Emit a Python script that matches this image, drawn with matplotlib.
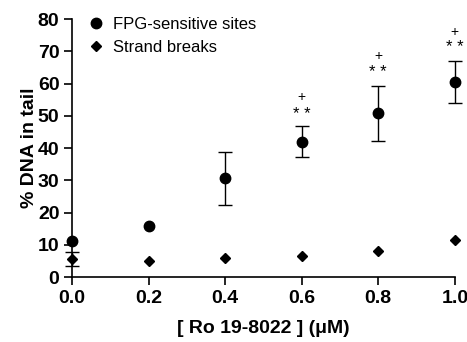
import numpy as np
import matplotlib
matplotlib.use('Agg')
import matplotlib.pyplot as plt

plt.rcParams['font.family'] = ['Liberation Sans', 'DejaVu Sans']

conc = [0.0, 0.2, 0.4, 0.6, 0.8, 1.0]
fpg = [11.3, 15.8, 30.6, 42.0, 50.8, 60.5]
fpg_err = [0, 0, 8.3, 4.7, 8.5, 6.5]
sb = [5.5, 5.0, 5.8, 6.4, 8.1, 11.5]
sb_err = [2.2, 0, 0, 0, 0, 0]
star_y = [50.5, 63.5, 71.3]
plus_y = [56.0, 68.6, 76.0]
sig_x = [0.6, 0.8, 1.0]

fig = plt.figure(figsize=(4.67, 3.42), dpi=100)
ax = fig.add_axes([0.154, 0.19, 0.82, 0.754])

def draw(xs, ys, errs, marker, ms, label):
    ax.plot(xs, ys, marker, color='black', ms=ms, clip_on=False, zorder=3, label=label)
    idx = [i for i, e in enumerate(errs) if e > 0]
    ax.errorbar([xs[i] for i in idx], [ys[i] for i in idx], yerr=[errs[i] for i in idx],
                fmt='none', ecolor='black', capsize=5, elinewidth=1, capthick=1,
                clip_on=False, zorder=2)

draw(conc, fpg, fpg_err, 'o', 7.5, 'FPG-sensitive sites')
draw(conc, sb, sb_err, 'D', 5.5, 'Strand breaks')

for x, ys, yp in zip(sig_x, star_y, plus_y):
    ax.text(x, ys, '* *', ha='center', va='center', fontsize=12)
    ax.text(x, yp, '+', ha='center', va='center', fontsize=10)

ax.set_xlim(0, 1.0)
ax.set_ylim(0, 80)
ax.set_xticks([0.0, 0.2, 0.4, 0.6, 0.8, 1.0])
ax.set_yticks(range(0, 81, 10))
ax.xaxis.set_major_formatter(matplotlib.ticker.FormatStrFormatter('%.1f'))
ax.spines['top'].set_visible(False)
ax.spines['right'].set_visible(False)
ax.spines['left'].set_linewidth(1.2)
ax.spines['bottom'].set_linewidth(1.2)
ax.tick_params(length=6, width=1.2, labelsize=14, pad=3)
for lab in ax.get_xticklabels() + ax.get_yticklabels():
    lab.set_fontweight('bold')

ax.set_xlabel('[ Ro 19-8022 ] (μM)', fontsize=14, fontweight='bold', labelpad=10)
ax.set_ylabel('% DNA in tail', fontsize=14, fontweight='bold', labelpad=0)

ax.legend(loc='upper left', frameon=False, fontsize=12,
          handletextpad=0.4, borderaxespad=0.0, bbox_to_anchor=(0.02, 1.035),
          labelspacing=0.5, handlelength=1.2)

fig.savefig('out.png', dpi=100)
